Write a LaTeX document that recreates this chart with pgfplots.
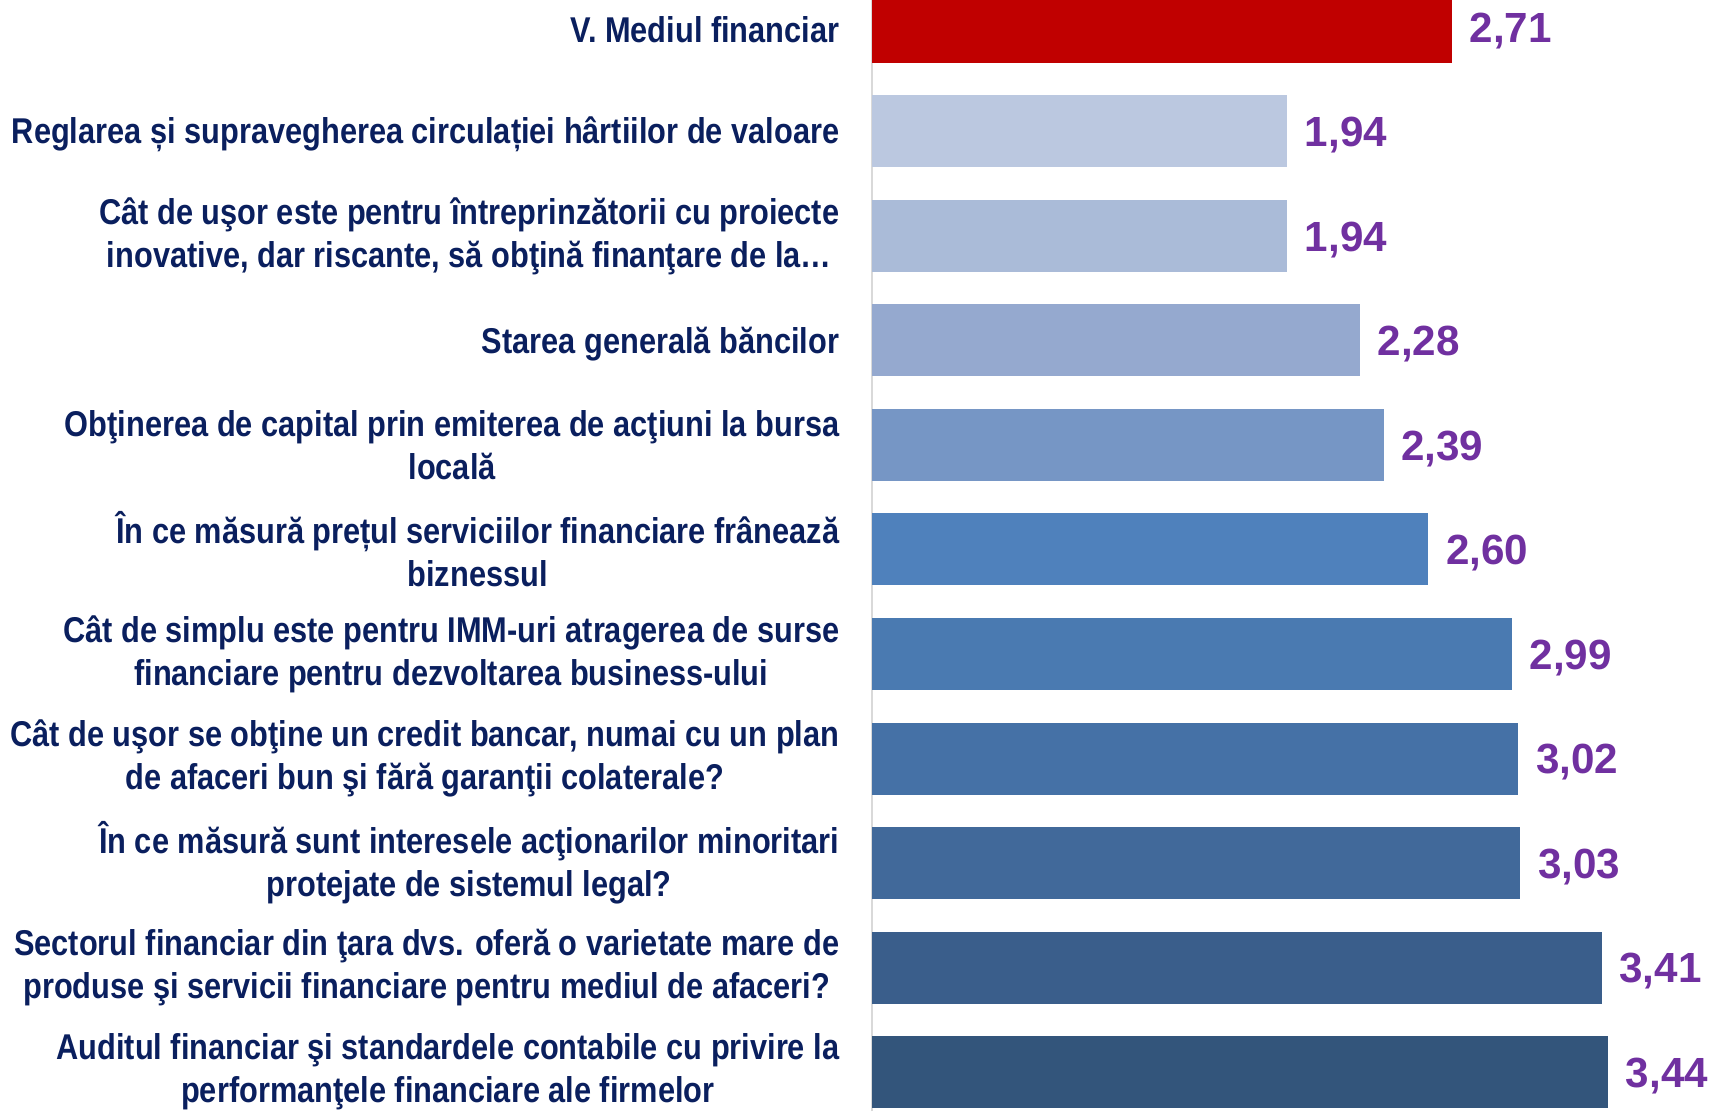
\documentclass[border=0pt]{standalone}
\usepackage{fontspec}
\setmainfont{Liberation Sans}
\newfontfamily\labelfont{Liberation Sans}[FakeStretch=0.858]
\usepackage{pgfplots}
\pgfplotsset{compat=1.18}

\definecolor{navy}{HTML}{0A1F5E}
\definecolor{valpurple}{HTML}{7030A0}
\definecolor{axisgrey}{HTML}{D9D9D9}
\definecolor{c0}{HTML}{C00000}
\definecolor{c1}{HTML}{BBC8E0}
\definecolor{c2}{HTML}{AABBD8}
\definecolor{c3}{HTML}{95A9CF}
\definecolor{c4}{HTML}{7696C5}
\definecolor{c5}{HTML}{4F81BC}
\definecolor{c6}{HTML}{4A7AB1}
\definecolor{c7}{HTML}{4571A6}
\definecolor{c8}{HTML}{41699A}
\definecolor{c9}{HTML}{3A5E8B}
\definecolor{c10}{HTML}{33557B}

% single-line labels sit a little lower
\newcommand{\low}[1]{\raisebox{-0.9pt}[\height][\depth]{#1}}

\begin{document}
\begin{tikzpicture}
\begin{axis}[
    name=ax,
    scale only axis,
    width=85.2mm, height=111.1mm,
    xmin=0, xmax=3.981,
    ymin=-0.373, ymax=10.258,
    xbar, bar shift=0pt, bar width=7.2mm,
    axis lines*=left,
    x axis line style={draw=none},
    y axis line style={draw=axisgrey, line width=0.6pt},
    xtick=\empty,
    ytick={0,1,2,3,4,5,6,7,8,9,10},
    major tick length=0pt,
    yticklabels={
        {Auditul financiar şi standardele contabile cu privire la\\performanţele financiare ale firmelor},
        {Sectorul financiar din ţara dvs. oferă o varietate mare de\\produse şi servicii financiare pentru mediul de afaceri?},
        {În ce măsură sunt interesele acţionarilor minoritari\\protejate de sistemul legal?},
        {Cât de uşor se obţine un credit bancar, numai cu un plan\\de afaceri bun şi fără garanţii colaterale?},
        {Cât de simplu este pentru IMM-uri atragerea de surse\\financiare pentru dezvoltarea business-ului},
        {În ce măsură prețul serviciilor financiare frânează\\biznessul},
        {Obţinerea de capital prin emiterea de acţiuni la bursa\\locală},
        {\low{Starea generală băncilor}},
        {Cât de uşor este pentru întreprinzătorii cu proiecte\\inovative, dar riscante, să obţină finanţare de la…},
        {\low{Reglarea și supravegherea circulației hârtiilor de valoare}},
        {\low{V. Mediul financiar}}
    },
    yticklabel style={font=\labelfont\fontsize{10.2}{12.2}\selectfont\bfseries,
        text=navy, align=center, inner sep=0pt, anchor=east, xshift=-3.2mm},
    nodes near coords,
    every node near coord/.append style={font=\fontsize{12}{14}\selectfont\bfseries,
        text=valpurple, anchor=base west, inner sep=0pt, xshift=1.7mm, yshift=-4.3pt},
    /pgf/number format/.cd, use comma, fixed, fixed zerofill, precision=2, assume math mode=true,
]
\addplot[fill=c0, draw=none] coordinates {(2.71,10)};
\addplot[fill=c1, draw=none] coordinates {(1.94,9)};
\addplot[fill=c2, draw=none] coordinates {(1.94,8)};
\addplot[fill=c3, draw=none] coordinates {(2.28,7)};
\addplot[fill=c4, draw=none] coordinates {(2.39,6)};
\addplot[fill=c5, draw=none] coordinates {(2.60,5)};
\addplot[fill=c6, draw=none] coordinates {(2.99,4)};
\addplot[fill=c7, draw=none] coordinates {(3.02,3)};
\addplot[fill=c8, draw=none] coordinates {(3.03,2)};
\addplot[fill=c9, draw=none] coordinates {(3.41,1)};
\addplot[fill=c10, draw=none] coordinates {(3.44,0)};
\end{axis}
\pgfresetboundingbox
\path[use as bounding box] ([xshift=-87.2mm]ax.south west) rectangle (ax.north east);
\end{tikzpicture}
\end{document}
